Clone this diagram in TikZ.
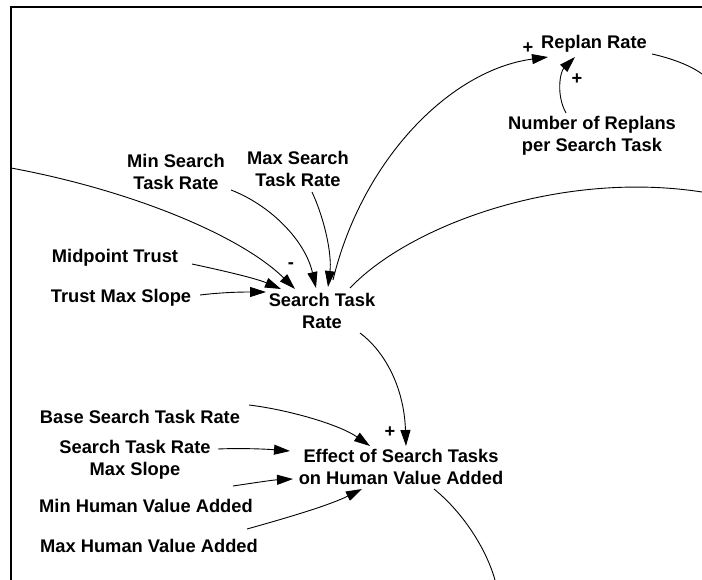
\documentclass[tikz,border=0pt]{standalone}
\usepackage{fontspec}
\setmainfont{Liberation Sans}
\usetikzlibrary{arrows.meta}

\tikzset{
  var/.style={inner sep=0pt, align=center, font=\fontsize{18.3}{22.5}\selectfont\bfseries},
  sign/.style={inner sep=0pt, font=\fontsize{18.3}{22}\selectfont\bfseries},
  link/.style={line width=0.9pt, -{Triangle[length=16pt,width=10pt]}},
  tail/.style={line width=0.9pt},
  frame/.style={line width=2.2pt}
}

\begin{document}
\begin{tikzpicture}[x=1pt,y=-1pt]
\useasboundingbox (0,0) rectangle (702,580);

% border of the view
\draw[frame] (11,580) -- (11,7) -- (702,7);

% variables
\node[var] (minsrch) at (176,172) {Min Search\\Task Rate};
\node[var] (maxsrch) at (298,169) {Max Search\\Task Rate};
\node[var, anchor=base] (midtrust) at (115,263) {Midpoint Trust};
\node[var, anchor=base] (trustslope) at (121,303) {Trust Max Slope};
\node[var] (str) at (322,311) {Search Task\\Rate};
\node[var, anchor=base] (replan) at (594,49) {Replan Rate};
\node[var] (nreplan) at (592,136) {Number of Replans\\per Search Task};
\node[var, anchor=base] (base) at (140,423) {Base Search Task Rate};
\node[var] (slope) at (135,460) {Search Task Rate\\Max Slope};
\node[var, anchor=base] (minhva) at (146,512) {Min Human Value Added};
\node[var, anchor=base] (maxhva) at (149,552) {Max Human Value Added};
\node[var] (effect) at (401,467) {Effect of Search Tasks\\on Human Value Added};

% loose ends of links leaving the view
\coordinate (offL) at (11,168);
\coordinate (offR1) at (702,74);
\coordinate (offR2) at (702,192);
\coordinate (offB) at (495,580);

% links into Search Task Rate
\draw[link] (offL) .. controls (130,190) and (240,235) .. ([shift={(-27,-22)}]str.center);
\draw[link] ([shift={(55,18)}]minsrch.center) .. controls (270,205) and (305,240) .. ([shift={(-6,-23)}]str.center);
\draw[link] ([shift={(14,23)}]maxsrch.center) .. controls (325,220) and (332,255) .. ([shift={(6,-24)}]str.center);
\draw[link] ([shift={(77,1)}]midtrust.base) .. controls (220,270) and (255,278) .. ([shift={(-41,-22)}]str.center);
\draw[link] ([shift={(79,-8)}]trustslope.base) .. controls (225,292) and (245,292) .. ([shift={(-56,-19)}]str.center);

% links into Replan Rate
\draw[link] ([shift={(11,-31)}]str.center) .. controls (362,160) and (450,70) .. ([shift={(-46,8)}]replan.base);
\draw[link] ([shift={(-26,-23)}]nreplan.center) .. controls (556,95) and (560,72) .. ([shift={(-19,8)}]replan.base);

% links leaving the view
\draw[tail] ([shift={(58,5)}]replan.base) .. controls (670,58) and (690,65) .. (offR1);
\draw[tail] ([shift={(28,-23)}]str.center) .. controls (410,225) and (560,170) .. (offR2);
\draw[tail] ([shift={(33,22)}]effect.center) .. controls (460,510) and (485,545) .. (offB);

% links into Effect of Search Tasks on Human Value Added
\draw[link] ([shift={(38,22)}]str.center) .. controls (383,350) and (404,385) .. ([shift={(5,-21)}]effect.center);
\draw[link] ([shift={(109,-18)}]base.base) .. controls (290,410) and (340,425) .. ([shift={(-31,-21)}]effect.center);
\draw[link] ([shift={(83,-11)}]slope.center) .. controls (240,448) and (265,449) .. ([shift={(-111,-16)}]effect.center);
\draw[link] ([shift={(87,-26)}]minhva.base) .. controls (253,483) and (273,480) .. ([shift={(-108,12)}]effect.center);
\draw[link] ([shift={(98,-23)}]maxhva.base) .. controls (290,517) and (330,505) .. ([shift={(-39,22)}]effect.center);

% polarity signs
\node[sign] (sgnA) at (291,266) {-};
\node[sign] (sgnB) at (528,48) {+};
\node[sign] (sgnC) at (577,79) {+};
\node[sign] (sgnD) at (390,432) {+};
\end{tikzpicture}
\end{document}
